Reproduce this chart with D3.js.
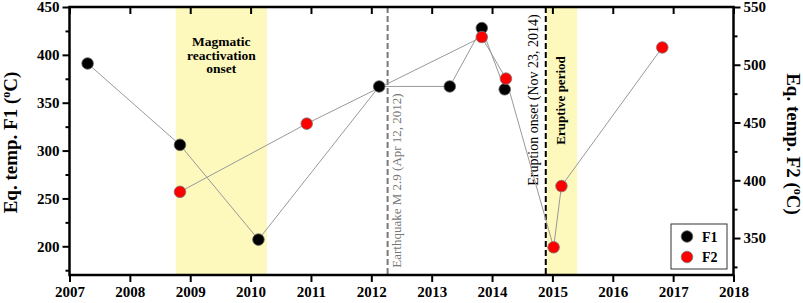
<!DOCTYPE html>
<html>
<head>
<meta charset="utf-8">
<script src="https://cdn.jsdelivr.net/npm/d3@7"></script>
<style>
  body { margin: 0; background: #fff; }
  svg text { font-family: "Liberation Serif", "Times New Roman", serif; }
  .axis path, .axis line { stroke: #000; }
  .axis text { font-size: 15px; font-weight: bold; fill: #000; }
</style>
</head>
<body>
<script>
// ---------------- data ----------------
var f1Years  = [2007.30, 2008.83, 2010.13, 2012.13, 2013.30, 2013.83, 2014.21];
var f1Temps  = [391, 306, 207, 367, 367, 428, 364];
var f2Years  = [2008.83, 2010.93, 2013.83, 2014.23, 2015.02, 2015.15, 2016.82];
var f2Temps  = [390, 449, 524, 488, 342, 395, 515];
var xTicks   = [2007, 2008, 2009, 2010, 2011, 2012, 2013, 2014, 2015, 2016, 2017, 2018];
var leftTicks  = [200, 250, 300, 350, 400, 450];
var rightTicks = [350, 400, 450, 500, 550];
var bands  = [{from: 2008.76, to: 2010.27, label: ["Magmatic", "reactivation", "onset"]},
              {from: 2014.90, to: 2015.41, label: ["Eruptive period"]}];
var events = [{year: 2012.27, label: "Earthquake M 2.9 (Apr 12, 2012)", color: "#777"},
              {year: 2014.89, label: "Eruption onset (Nov 23, 2014)", color: "#000"}];

var W = 803, H = 303;
var pLeft = 69.5, pRight = 733.5, pTop = 7, pBottom = 275;

var svg = d3.select("body").append("svg").attr("width", W).attr("height", H);

var x  = d3.scaleLinear().domain([2007, 2018]).range([pLeft, pRight]);
var yL = d3.scaleLinear().domain([170, 450]).range([pBottom, pTop]);
var yR = d3.scaleLinear().domain([318, 550]).range([pBottom, pTop]);

// shaded periods
svg.selectAll(".band").data(bands).enter().append("rect")
    .attr("x", function(d) { return x(d.from); })
    .attr("y", pTop)
    .attr("width", function(d) { return x(d.to) - x(d.from); })
    .attr("height", pBottom - pTop)
    .style("fill", "#fdf8bb");

// event lines
svg.selectAll(".event").data(events).enter().append("line")
    .attr("x1", function(d) { return x(d.year); })
    .attr("x2", function(d) { return x(d.year); })
    .attr("y1", pTop).attr("y2", pBottom)
    .style("stroke", function(d) { return d.color; })
    .style("stroke-width", 2)
    .style("stroke-dasharray", "6,3");

// band labels
var bx = (x(bands[0].from) + x(bands[0].to)) / 2;
svg.append("text")
    .attr("y", 46)
    .style("text-anchor", "middle")
    .style("font-size", "13.5px").style("font-weight", "bold")
    .selectAll("tspan").data(bands[0].label).enter().append("tspan")
        .attr("x", bx)
        .attr("dy", function(d, i) { return i ? 13.5 : 0; })
        .text(function(d) { return d; });

svg.append("text")
    .attr("transform", "translate(" + ((x(bands[1].from) + x(bands[1].to)) / 2 + 3) + ",100.5) rotate(-90)")
    .style("text-anchor", "middle")
    .style("font-size", "13px").style("font-weight", "bold")
    .text(bands[1].label[0]);

// event labels
svg.append("text")
    .attr("transform", "translate(" + (x(events[0].year) + 13) + ",180.5) rotate(-90)")
    .style("text-anchor", "middle").style("font-size", "13px")
    .style("fill", "#777")
    .text(events[0].label);
svg.append("text")
    .attr("transform", "translate(" + (x(events[1].year) - 8) + ",100) rotate(-90)")
    .style("text-anchor", "middle").style("font-size", "14px")
    .style("fill", "#000")
    .text(events[1].label);

// lines
var f1 = f1Years.map(function(d, i) { return {year: d, t: f1Temps[i]}; });
var f2 = f2Years.map(function(d, i) { return {year: d, t: f2Temps[i]}; });

var line1 = d3.line().x(function(d) { return x(d.year); }).y(function(d) { return yL(d.t); });
var line2 = d3.line().x(function(d) { return x(d.year); }).y(function(d) { return yR(d.t); });

svg.append("path").attr("d", line1(f1))
    .style("fill", "none").style("stroke", "#999").style("stroke-width", 1);
svg.append("path").attr("d", line2(f2))
    .style("fill", "none").style("stroke", "#999").style("stroke-width", 1);

svg.selectAll(".p1").data(f1).enter().append("circle")
    .attr("cx", function(d) { return x(d.year); })
    .attr("cy", function(d) { return yL(d.t); })
    .attr("r", 5.8)
    .style("fill", "#000").style("stroke", "#666").style("stroke-width", 0.8);
svg.selectAll(".p2").data(f2).enter().append("circle")
    .attr("cx", function(d) { return x(d.year); })
    .attr("cy", function(d) { return yR(d.t); })
    .attr("r", 5.8)
    .style("fill", "#f00").style("stroke", "#777").style("stroke-width", 0.8);

// axes
svg.append("g").attr("class", "axis")
    .attr("transform", "translate(0," + pBottom + ")")
    .call(d3.axisBottom(x).tickValues(xTicks).tickFormat(d3.format("d")).tickSize(7).tickPadding(4));
svg.append("g").attr("class", "axis")
    .attr("transform", "translate(0," + pTop + ")")
    .call(d3.axisBottom(x).tickValues(xTicks).tickFormat("").tickSize(7));
svg.append("g").attr("class", "axis")
    .attr("transform", "translate(" + pLeft + ",0)")
    .call(d3.axisLeft(yL).tickValues(d3.range(175, 450, 50)).tickFormat("").tickSize(4));
svg.append("g").attr("class", "axis")
    .attr("transform", "translate(" + pLeft + ",0)")
    .call(d3.axisLeft(yL).tickValues(leftTicks).tickSize(7).tickPadding(3));
svg.append("g").attr("class", "axis")
    .attr("transform", "translate(" + pRight + ",0)")
    .call(d3.axisRight(yR).tickValues(d3.range(325, 550, 50)).tickFormat("").tickSize(4));
svg.append("g").attr("class", "axis")
    .attr("transform", "translate(" + pRight + ",0)")
    .call(d3.axisRight(yR).tickValues(rightTicks).tickSize(7).tickPadding(3));

svg.selectAll(".axis path.domain").remove();
svg.selectAll(".axis line").style("stroke-width", 2);

// frame
svg.append("rect")
    .attr("x", pLeft).attr("y", pTop)
    .attr("width", pRight - pLeft).attr("height", pBottom - pTop)
    .style("fill", "none").style("stroke", "#000").style("stroke-width", 2.5);

// axis titles
var tL = svg.append("text")
    .attr("transform", "translate(16.5,142.5) rotate(-90)")
    .style("text-anchor", "middle").style("font-size", "19px").style("font-weight", "bold");
tL.append("tspan").text("Eq. temp. F1 (");
tL.append("tspan").attr("dy", -7).style("font-size", "12px").text("o");
tL.append("tspan").attr("dy", 7).text("C)");

var tR = svg.append("text")
    .attr("transform", "translate(786.5,144) rotate(90)")
    .style("text-anchor", "middle").style("font-size", "19px").style("font-weight", "bold");
tR.append("tspan").text("Eq. temp. F2 (");
tR.append("tspan").attr("dy", -7).style("font-size", "12px").text("o");
tR.append("tspan").attr("dy", 7).text("C)");

// legend
var lg = svg.append("g").attr("transform", "translate(671,224)");
lg.append("rect").attr("width", 56).attr("height", 45)
    .style("fill", "#fff").style("stroke", "#333").style("stroke-width", 1);
[["F1", "#000", "#666"], ["F2", "#f00", "#777"]].forEach(function(d, i) {
    lg.append("circle").attr("cx", 16).attr("cy", 12.5 + i * 20.5).attr("r", 5.8)
        .style("fill", d[1]).style("stroke", d[2]).style("stroke-width", 0.8);
    lg.append("text").attr("x", 31).attr("y", 17.5 + i * 20.5)
        .style("font-size", "14px").style("font-weight", "bold").text(d[0]);
});
</script>
</body>
</html>
